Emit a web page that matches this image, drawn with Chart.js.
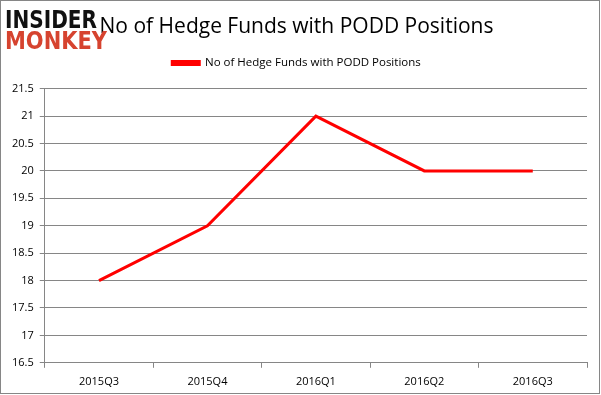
<!DOCTYPE html>
<html>
<head>
<meta charset="utf-8">
<script src="https://cdn.jsdelivr.net/npm/chart.js@4/dist/chart.umd.min.js"></script>
<style>
  body { margin: 0; background: #fff; }
  #wrap { width: 601px; height: 395px; position: relative; }
</style>
</head>
<body>
<div id="wrap"><canvas id="myChart" width="601" height="395"></canvas></div>
<script>
var quarters = ['2015Q3', '2015Q4', '2016Q1', '2016Q2', '2016Q3'];
var hedgeFunds = [18, 19, 21, 20, 20];
var seriesName = 'No of Hedge Funds with PODD Positions';

// logo + outer border
var decor = {
    id: 'decor',
    beforeInit: function (chart) {
        // some extra room under the legend
        var fit = chart.legend.fit;
        chart.legend.fit = function () {
            fit.bind(chart.legend)();
            this.height += 10;
        };
    },
    afterDraw: function (chart) {
        var c = chart.ctx;
        c.save();
        c.strokeStyle = '#868686';
        c.lineWidth = 1;
        c.strokeRect(0.5, 0.5, 599, 393);
        c.textBaseline = 'alphabetic';
        c.font = 'bold 24px "DejaVu Sans"';
        c.fillStyle = '#111';
        var w = c.measureText('INSIDER').width;
        c.save();
        c.translate(5, 28);
        c.scale(92 / w, 1);
        c.fillText('INSIDER', 0, 0);
        c.restore();
        c.fillStyle = '#d6432f';
        w = c.measureText('MONKEY').width;
        c.save();
        c.translate(5, 49);
        c.scale(102 / w, 1);
        c.fillText('MONKEY', 0, 0);
        c.restore();
        c.restore();
    }
};

var ctx = document.getElementById('myChart').getContext('2d');
var chart = new Chart(ctx, {
    type: 'line',
    data: {
        labels: quarters,
        datasets: [{
            label: seriesName,
            data: hedgeFunds,
            borderColor: '#ff0000',
            backgroundColor: '#ff0000',
            borderWidth: 3,
            pointRadius: 0,
            tension: 0
        }]
    },
    options: {
        responsive: false,
        animation: false,
        layout: { padding: { left: 6, right: 14, top: 6, bottom: 0 } },
        plugins: {
            title: {
                display: true,
                text: seriesName,
                color: '#000',
                font: { family: 'Open Sans', size: 21, weight: 'normal' },
                padding: { top: 8, bottom: 12 }
            },
            legend: {
                labels: {
                    color: '#000',
                    font: { family: 'Open Sans', size: 11.5 },
                    boxWidth: 27,
                    boxHeight: 3,
                    padding: 6
                }
            },
            tooltip: { enabled: false }
        },
        scales: {
            x: {
                offset: true,
                grid: { display: true, drawOnChartArea: false, offset: true, color: '#868686', tickLength: 5 },
                border: { color: '#868686' },
                ticks: { color: '#000', font: { family: 'Open Sans', size: 11 }, padding: 7, maxRotation: 0 }
            },
            y: {
                min: 16.5,
                max: 21.5,
                ticks: {
                    stepSize: 0.5,
                    color: '#000',
                    font: { family: 'Open Sans', size: 11 },
                    padding: 6,
                    callback: function (v) { return String(v); }
                },
                grid: { color: '#868686', tickLength: 5 },
                border: { color: '#868686' }
            }
        }
    },
    plugins: [decor]
});
</script>
</body>
</html>
